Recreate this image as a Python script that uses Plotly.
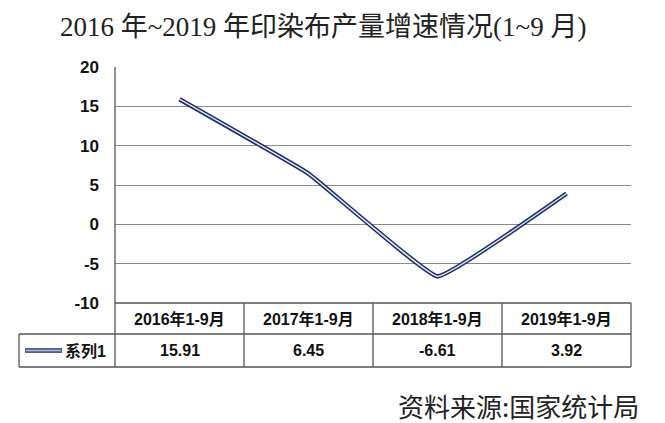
import plotly.graph_objects as go

categories = ["2016年1-9月", "2017年1-9月", "2018年1-9月", "2019年1-9月"]
values = [15.91, 6.45, -6.61, 3.92]
series_name = "系列1"
y_ticks = [-10, -5, 0, 5, 10, 15, 20]
title_text = "2016 年~2019 年印染布产量增速情况(1~9 月)"
source_text = "资料来源:国家统计局"

OFF = 8  # default page margin in the browser
W, H = 665 - OFF, 423 - OFF
# screen pixel layout of the plot area
SL, ST, SR, SB = 115, 67, 631, 303
L, T = SL - OFF, ST - OFF
R, B = W - (SR - OFF), H - (SB - OFF)
ph = SB - ST
pw = SR - SL

def py(pix):
    return (SB - pix) / ph

def px(pix):
    return (pix - SL) / pw

row1_bot = py(334)
row2_bot = py(367)
tbl_left = px(19)

fig = go.Figure()
fig.add_trace(go.Scatter(x=categories, y=values, mode="lines",
                         line=dict(color="#1c2a66", width=4.5, shape="spline", smoothing=0.25),
                         showlegend=False, hoverinfo="skip"))
fig.add_trace(go.Scatter(x=categories, y=values, mode="lines",
                         line=dict(color="#dde4f0", width=1.5, shape="spline", smoothing=0.25),
                         showlegend=False, name=series_name))

border = dict(color="#555555", width=1.3)
shapes = []
shapes.append(dict(type="line", xref="paper", yref="paper", x0=0, x1=1, y0=0, y1=0, line=border))
shapes.append(dict(type="line", xref="paper", yref="paper", x0=tbl_left, x1=1, y0=row1_bot, y1=row1_bot, line=border))
shapes.append(dict(type="line", xref="paper", yref="paper", x0=tbl_left, x1=1, y0=row2_bot, y1=row2_bot, line=border))
shapes.append(dict(type="line", xref="paper", yref="paper", x0=tbl_left, x1=tbl_left, y0=row1_bot, y1=row2_bot, line=border))
shapes.append(dict(type="line", xref="paper", yref="paper", x0=0, x1=0, y0=row2_bot, y1=1, line=border))
shapes.append(dict(type="line", xref="paper", yref="paper", x0=1, x1=1, y0=row2_bot, y1=0, line=border))
for i in range(len(categories) - 1):
    shapes.append(dict(type="line", xref="x", yref="paper", x0=i + 0.5, x1=i + 0.5, y0=row2_bot, y1=0, line=border))
ly = (row1_bot + row2_bot) / 2
shapes.append(dict(type="line", xref="paper", yref="paper", x0=px(25), x1=px(62), y0=ly, y1=ly,
                   line=dict(color="#1c2a66", width=4.5)))
shapes.append(dict(type="line", xref="paper", yref="paper", x0=px(25.5), x1=px(61.5), y0=ly, y1=ly,
                   line=dict(color="#a9b8d6", width=2)))

cell_font = dict(family="Liberation Sans, Noto Sans CJK SC", size=16, color="#111111")
ann = []
for c, v in zip(categories, values):
    ann.append(dict(x=c, xref="x", y=(0 + row1_bot) / 2, yref="paper", text="<b>%s</b>" % c,
                    showarrow=False, font=cell_font, yanchor="middle"))
    ann.append(dict(x=c, xref="x", y=ly, yref="paper", text="<b>%s</b>" % f"{v:.2f}",
                    showarrow=False, font=cell_font, yanchor="middle"))
ann.append(dict(x=px(63), xref="paper", y=ly, yref="paper", text="<b>%s</b>" % series_name, showarrow=False,
                font=cell_font, xanchor="left", yanchor="middle"))
ann.append(dict(x=px(641), xref="paper", y=py(405), yref="paper", text=source_text, showarrow=False,
                font=dict(family="Noto Sans CJK SC", size=26, color="#222222"), xanchor="right", yanchor="middle"))
ann.append(dict(x=px(323), xref="paper", y=py(27), yref="paper", text=title_text, showarrow=False,
                font=dict(family="Liberation Serif, Noto Sans CJK SC", size=27, color="#222222"),
                xanchor="center", yanchor="middle"))

fig.update_layout(
    width=W, height=H,
    margin=dict(l=L, r=R, t=T, b=B),
    paper_bgcolor="white", plot_bgcolor="white",
    shapes=shapes, annotations=ann, showlegend=False,
    xaxis=dict(type="category", range=[-0.5, 3.5], showticklabels=False, showgrid=False, zeroline=False,
               showline=False, ticks=""),
    yaxis=dict(range=[-10, 20], tickvals=y_ticks, ticktext=["<b>%d</b>" % t for t in y_ticks],
               showgrid=True, gridcolor="#8a8a8a", gridwidth=1.3, zeroline=False,
               showline=False, ticks="", ticklabelstandoff=15,
               tickfont=dict(family="Liberation Sans", size=17, color="#111111")),
)
fig.write_html("out.html")
